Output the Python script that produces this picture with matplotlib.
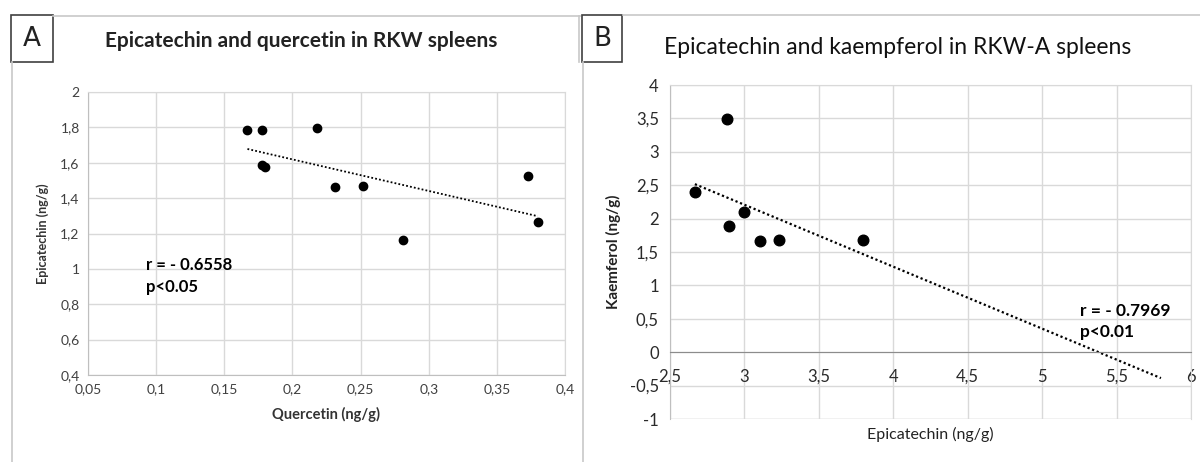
import numpy as np
import matplotlib
matplotlib.use("Agg")
import matplotlib.pyplot as plt
import matplotlib.patches as patches
from matplotlib.ticker import FuncFormatter, MultipleLocator

# Panel A data: quercetin vs epicatechin (RKW)
quercetin_a = [0.167, 0.178, 0.218, 0.178, 0.180, 0.231, 0.252, 0.281, 0.373, 0.380]
epicatechin_a = [1.783, 1.783, 1.794, 1.589, 1.577, 1.464, 1.468, 1.164, 1.523, 1.264]

# Panel B data: epicatechin vs kaempferol (RKW-A)
epicatechin_b = [2.880, 2.667, 2.999, 2.893, 3.103, 3.233, 3.798]
kaempferol_b = [3.496, 2.402, 2.097, 1.887, 1.662, 1.687, 1.687]

r_text_a = "r = - 0.6558\np<0.05"
r_text_b = "r = - 0.7969\np<0.01"

grid_col = "#d9d9d9"
tick_col = "#404040"
font = ["Lato", "DejaVu Sans"]


def comma_fmt(v, pos):
    return ("%g" % round(v, 3)).replace(".", ",")


fig = plt.figure(figsize=(12, 4.62), dpi=100)

# frame lines and panel letters (figure pixel coords)
def fig_line(x0, y0, x1, y1, color="#c8c8c8", lw=1.2):
    fig.add_artist(plt.Line2D([x0 / 1200, x1 / 1200], [1 - y0 / 462, 1 - y1 / 462],
                              color=color, lw=lw, transform=fig.transFigure))


fig_line(53, 16, 580, 16)
fig_line(12, 62, 12, 462)
fig_line(579, 16, 579, 62)
fig_line(623, 15, 1200, 15)
fig_line(583, 62, 583, 462)

for (x0, x1, label) in [(11, 53, "A"), (582, 622, "B")]:
    box = patches.Rectangle((x0 / 1200, 1 - 62 / 462), (x1 - x0) / 1200, 47 / 462,
                            transform=fig.transFigure, fill=False,
                            edgecolor="#404040", lw=1.2)
    fig.add_artist(box)
    fig.text((x0 + x1) / 2 / 1200, 1 - 39 / 462, label, ha="center", va="center",
             fontsize=19, family=["DejaVu Sans"], color="#222222")

# ---------------- Panel A ----------------
ax = fig.add_axes([88 / 1200, 87 / 462, 477 / 1200, 283 / 462])
ax.scatter(quercetin_a, epicatechin_a, s=36, color="black", zorder=3)
xa = np.array(quercetin_a)
ya = np.array(epicatechin_a)
m, b = np.polyfit(xa, ya, 1)
xs = np.array([xa.min(), xa.max()])
ax.plot(xs, m * xs + b, color="black", lw=1.3, linestyle=(0, (1, 1.2)), zorder=2)

ax.set_xlim(0.05, 0.4)
ax.set_ylim(0.4, 2)
ax.xaxis.set_major_locator(MultipleLocator(0.05))
ax.yaxis.set_major_locator(MultipleLocator(0.2))
ax.xaxis.set_major_formatter(FuncFormatter(comma_fmt))
ax.yaxis.set_major_formatter(FuncFormatter(comma_fmt))
ax.grid(True, color=grid_col, lw=1)
ax.set_axisbelow(True)
for sp in ax.spines.values():
    sp.set_color(grid_col)
ax.spines["left"].set_color("#bfbfbf")
ax.spines["bottom"].set_color("#bfbfbf")
ax.tick_params(length=0, labelsize=10, colors=tick_col, pad=6)
for t in ax.get_xticklabels() + ax.get_yticklabels():
    t.set_family(font)
ax.set_xlabel("Quercetin (ng/g)", fontsize=10.5, fontweight="bold", family=font,
              color="#333333", labelpad=8)
ax.set_ylabel("Epicatechin (ng/g)", fontsize=9, fontweight="bold", family=font,
              color="#333333", labelpad=8)
ax.text(0.0925, 0.96, r_text_a, fontsize=12, fontweight="bold", family=font,
        va="center", linespacing=1.45)
fig.text(301 / 1200, 1 - 41 / 462, "Epicatechin and quercetin in RKW spleens",
         ha="center", va="center", fontsize=15, fontweight="bold", family=font,
         color="#222222")

# ---------------- Panel B ----------------
bx = fig.add_axes([670 / 1200, 43 / 462, 521 / 1200, 334 / 462])
bx.scatter(epicatechin_b, kaempferol_b, s=58, color="black", zorder=3)
xb = np.array(epicatechin_b)
yb = np.array(kaempferol_b)
m2, b2 = np.polyfit(xb, yb, 1)
xs2 = np.array([xb.min(), xb.max() + 2.0])
bx.plot(xs2, m2 * xs2 + b2, color="black", lw=1.6, linestyle=(0, (1, 1.2)), zorder=2)

bx.set_xlim(2.5, 6)
bx.set_ylim(-1, 4)
bx.xaxis.set_major_locator(MultipleLocator(0.5))
bx.yaxis.set_major_locator(MultipleLocator(0.5))
bx.xaxis.set_major_formatter(FuncFormatter(comma_fmt))
bx.yaxis.set_major_formatter(FuncFormatter(comma_fmt))
bx.grid(True, color=grid_col, lw=1)
bx.set_axisbelow(True)
for sp in bx.spines.values():
    sp.set_color(grid_col)
bx.spines["left"].set_color("#bfbfbf")
bx.spines["bottom"].set_position(("data", 0))
bx.spines["bottom"].set_color("#8c8c8c")
bx.axhline(-1, color=grid_col, lw=1, zorder=0)
bx.tick_params(length=0, labelsize=12, colors="#2a2a2a")
bx.tick_params(axis="x", pad=12)
bx.tick_params(axis="y", pad=8)
for t in bx.get_xticklabels() + bx.get_yticklabels():
    t.set_family(font)
bx.set_xlabel("Epicatechin (ng/g)", fontsize=11.5, family=font, color="#222222")
bx.xaxis.set_label_coords(0.5, -0.025)
bx.set_ylabel("Kaemferol (ng/g)", fontsize=11, fontweight="bold", family=font,
              color="#222222", labelpad=6)
bx.text(5.254, 0.46, r_text_b, fontsize=12.5, fontweight="bold", family=font,
        va="center", linespacing=1.45)
fig.text(664 / 1200, 1 - 47 / 462, "Epicatechin and kaempferol in RKW-A spleens",
         ha="left", va="center", fontsize=16.5, family=font, color="#111111")

fig.savefig("out.png", dpi=100)
